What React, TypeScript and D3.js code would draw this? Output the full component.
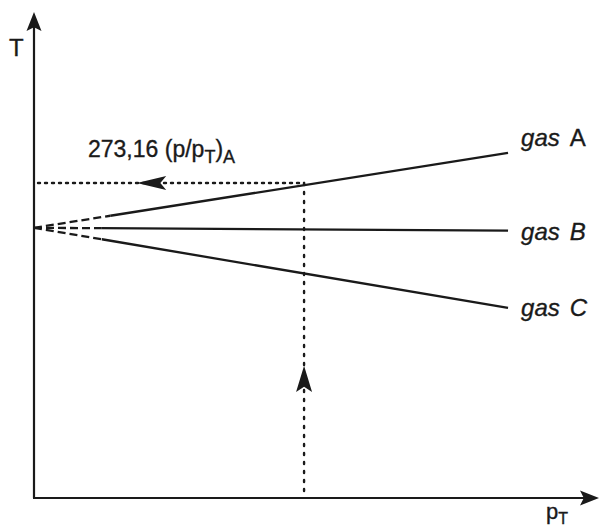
import React from "react";
import * as d3 from "d3";

// diagram values, in arbitrary units (p on x, T on y, both 0..100)
const gasNames = ["A", "B", "C"];
const gasLetterItalic = [false, true, true];
const gasStartT = [55.6, 55.6, 55.6];
const gasEndP = [83.9, 83.9, 83.9];
const gasEndT = [71.0, 55.0, 39.1];
const dashedUntilP = [13.5, 12.0, 12.0];
const readP = 47.8;
const readT = 64.8;
const leftArrowP = [18.2, 23.4];
const upArrowT = [27.2, 21.8];
const labelText = "273,16 (p/p";

const W = 600;
const H = 530;
const ink = "#1a1a1a";
const font = "Arial, 'Liberation Sans', sans-serif";

const x = d3.scaleLinear().domain([0, 100]).range([34, 599]);
const y = d3.scaleLinear().domain([0, 100]).range([498, 12]);

const line = d3.line<[number, number]>()
  .x(d => x(d[0]))
  .y(d => y(d[1]));

// notched arrow head pointing along (dx,dy) with tip at (tx,ty)
const arrowHead = (tx: number, ty: number, dx: number, dy: number, len: number, half: number) => {
  const n = Math.hypot(dx, dy);
  const ux = dx / n, uy = dy / n;
  const bx = tx - ux * len, by = ty - uy * len;
  const nx = tx - ux * len * 0.8, ny = ty - uy * len * 0.8;
  return `M${tx},${ty}L${bx - uy * half},${by + ux * half}L${nx},${ny}L${bx + uy * half},${by - ux * half}Z`;
};

const txt = { fontFamily: font, fill: ink, stroke: ink, strokeWidth: 0.35 };

const App = () => {
  const x0 = x(0), y0 = y(0);
  return (
    <svg width={W} height={H} style={{ position: "absolute", left: 0, top: 0 }}>
      <rect width={W} height={H} fill="#fff" />

      {/* axes */}
      <line x1={x0} y1={y0} x2={x0} y2={y(100) + 14} stroke={ink} strokeWidth={2.2} />
      <line x1={x0 - 1} y1={y0} x2={x(100) - 14} y2={y0} stroke={ink} strokeWidth={2.2} />
      <path d={arrowHead(x0, y(100), 0, -1, 19, 7.5)} fill={ink} />
      <path d={arrowHead(x(100), y0, 1, 0, 19, 7.5)} fill={ink} />

      <text x={9} y={56} fontSize={24} {...txt}>T</text>
      <text x={546} y={519} fontSize={22} {...txt}>
        p<tspan fontSize={16} dy={5}>T</tspan>
      </text>

      {/* gas lines: dashed near the extrapolated origin, solid beyond */}
      {gasNames.map((g, i) => {
        const slope = (gasEndT[i] - gasStartT[i]) / gasEndP[i];
        const tAt = (p: number) => gasStartT[i] + slope * p;
        return (
          <g key={g}>
            <path
              d={line([[0, gasStartT[i]], [dashedUntilP[i], tAt(dashedUntilP[i])]]) || ""}
              stroke={ink} strokeWidth={2.3} fill="none" strokeDasharray="8 4"
            />
            <path
              d={line([[dashedUntilP[i], tAt(dashedUntilP[i])], [gasEndP[i], gasEndT[i]]]) || ""}
              stroke={ink} strokeWidth={2.3} fill="none"
            />
            <text
              x={x(gasEndP[i]) + 13}
              y={y(gasEndT[i]) + (i === 0 ? -7 : i === 1 ? 9 : 8)}
              fontSize={24} {...txt}
            >
              <tspan fontStyle="italic">gas</tspan>
              <tspan dx={10} fontStyle={gasLetterItalic[i] ? "italic" : "normal"}>{g}</tspan>
            </text>
          </g>
        );
      })}

      {/* reading lines */}
      <line x1={x(0) + 4} y1={y(readT)} x2={x(readP)} y2={y(readT)}
        stroke={ink} strokeWidth={2.4} strokeDasharray="2 5" strokeLinecap="round" />
      <line x1={x(readP)} y1={y(readT)} x2={x(readP)} y2={y0}
        stroke={ink} strokeWidth={2.4} strokeDasharray="2 7" strokeLinecap="round" />
      <path d={arrowHead(x(leftArrowP[0]), y(readT), -1, 0, x(leftArrowP[1]) - x(leftArrowP[0]), 7)} fill={ink} />
      <path d={arrowHead(x(readP), y(upArrowT[0]), 0, -1, y(upArrowT[1]) - y(upArrowT[0]), 8)} fill={ink} />

      <text x={88} y={157} fontSize={23} {...txt}>
        {labelText}
        <tspan fontSize={18} dy={6}>T</tspan>
        <tspan dy={-6}>)</tspan>
        <tspan fontSize={18} dy={6}>A</tspan>
      </text>
    </svg>
  );
};

export default App;
